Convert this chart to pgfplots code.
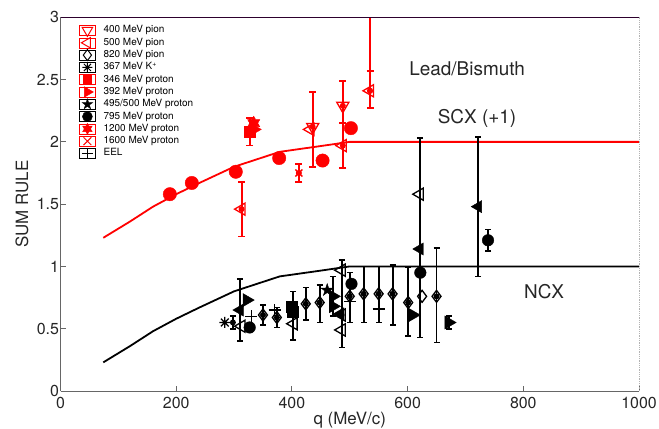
\documentclass[border=0pt]{standalone}
\usepackage{fontspec}
\setmainfont{TeX Gyre Heros}
\usepackage{pgfplots}
\pgfplotsset{compat=1.18}

\pgfdeclareplotmark{hexagram}{%
 \pgfpathmoveto{\pgfpointpolar{90}{\pgfplotmarksize}}%
 \pgfpathlineto{\pgfpointpolar{120}{0.577\pgfplotmarksize}}%
 \pgfpathlineto{\pgfpointpolar{150}{\pgfplotmarksize}}%
 \pgfpathlineto{\pgfpointpolar{180}{0.577\pgfplotmarksize}}%
 \pgfpathlineto{\pgfpointpolar{210}{\pgfplotmarksize}}%
 \pgfpathlineto{\pgfpointpolar{240}{0.577\pgfplotmarksize}}%
 \pgfpathlineto{\pgfpointpolar{270}{\pgfplotmarksize}}%
 \pgfpathlineto{\pgfpointpolar{300}{0.577\pgfplotmarksize}}%
 \pgfpathlineto{\pgfpointpolar{330}{\pgfplotmarksize}}%
 \pgfpathlineto{\pgfpointpolar{0}{0.577\pgfplotmarksize}}%
 \pgfpathlineto{\pgfpointpolar{30}{\pgfplotmarksize}}%
 \pgfpathlineto{\pgfpointpolar{60}{0.577\pgfplotmarksize}}%
 \pgfpathclose\pgfusepathqfillstroke}
\pgfdeclareplotmark{pentagram}{%
 \pgfpathmoveto{\pgfpointpolar{90}{\pgfplotmarksize}}%
 \pgfpathlineto{\pgfpointpolar{126}{0.382\pgfplotmarksize}}%
 \pgfpathlineto{\pgfpointpolar{162}{\pgfplotmarksize}}%
 \pgfpathlineto{\pgfpointpolar{198}{0.382\pgfplotmarksize}}%
 \pgfpathlineto{\pgfpointpolar{234}{\pgfplotmarksize}}%
 \pgfpathlineto{\pgfpointpolar{270}{0.382\pgfplotmarksize}}%
 \pgfpathlineto{\pgfpointpolar{306}{\pgfplotmarksize}}%
 \pgfpathlineto{\pgfpointpolar{342}{0.382\pgfplotmarksize}}%
 \pgfpathlineto{\pgfpointpolar{18}{\pgfplotmarksize}}%
 \pgfpathlineto{\pgfpointpolar{54}{0.382\pgfplotmarksize}}%
 \pgfpathclose\pgfusepathqfillstroke}
\pgfdeclareplotmark{ast8}{%
 \pgfpathmoveto{\pgfqpoint{-\pgfplotmarksize}{0pt}}\pgfpathlineto{\pgfqpoint{\pgfplotmarksize}{0pt}}%
 \pgfpathmoveto{\pgfqpoint{0pt}{-\pgfplotmarksize}}\pgfpathlineto{\pgfqpoint{0pt}{\pgfplotmarksize}}%
 \pgfpathmoveto{\pgfpointpolar{45}{\pgfplotmarksize}}\pgfpathlineto{\pgfpointpolar{225}{\pgfplotmarksize}}%
 \pgfpathmoveto{\pgfpointpolar{135}{\pgfplotmarksize}}\pgfpathlineto{\pgfpointpolar{315}{\pgfplotmarksize}}%
 \pgfusepathqstroke}

\pgfplotsset{
  rbar/.style={red, only marks, mark=none, forget plot, line width=1.9bp,
    error bars/.cd, y dir=both, y explicit,
    error bar style={draw=red, line width=1.9bp},
    error mark options={draw=red, line width=1.6bp, mark size=3.5bp, rotate=90}},
  kbar/.style={black, only marks, mark=none, forget plot, line width=1.9bp,
    error bars/.cd, y dir=both, y explicit,
    error bar style={draw=black, line width=1.9bp},
    error mark options={draw=black, line width=1.6bp, mark size=3bp, rotate=90}},
}

\begin{document}
\begin{tikzpicture}
\useasboundingbox (-60.5bp,-38bp) rectangle (598.5bp,391bp);
\begin{axis}[
  at={(0,0)}, anchor=south west, scale only axis,
  width=578.5bp, height=373.7bp,
  xmin=0, xmax=1000, ymin=0, ymax=3,
  xtick={0,200,400,600,800,1000}, ytick={0,0.5,1,1.5,2,2.5,3},
  tick align=inside, major tick length=5bp,
  axis x line*=bottom, axis y line*=left,
  axis line style={-, draw=black!60, line width=0.9bp},
  tick style={draw=black!60, line width=0.9bp},
  /pgf/number format/assume math mode=true,
  /pgf/number format/1000 sep={},
  tick label style={font=\fontsize{16}{16}\selectfont, text=black!85},
  xticklabel style={yshift=-3bp},
  yticklabel style={xshift=2bp},
  xlabel={q (MeV/c)}, ylabel={SUM RULE},
  every axis x label/.style={at={(rel axis cs:0.5,0)}, anchor=center, yshift=-29bp,
     font=\fontsize{17}{17}\selectfont, text=black!85},
  every axis y label/.style={at={(rel axis cs:0,0.5)}, xshift=-38.5bp, rotate=90, anchor=center,
     font=\fontsize{17}{17}\selectfont, text=black!85},
  clip=false,
  legend style={at={(rel axis cs:0.032,0.9817)}, anchor=north west, draw=none, fill=none,
     inner sep=0pt, font=\fontsize{10}{10}\selectfont, cells={anchor=west},
     nodes={text height=6.8bp, text depth=1.8bp, inner ysep=1.85bp, inner xsep=2bp},
     row sep=0pt, /tikz/every odd column/.append style={column sep=6bp}},
  legend image code/.code={\path (0bp,-5bp) rectangle (16bp,5bp); \draw[#1] plot coordinates {(8bp,0bp)};},
]
% ---------- legend ----------
\addlegendimage{only marks, red, mark=triangle, mark size=6bp, mark options={rotate=180, line width=1bp}}
\addlegendentry{400 MeV pion}
\addlegendimage{only marks, red, mark=triangle, mark size=6bp, mark options={rotate=90, line width=1bp}}
\addlegendentry{500 MeV pion}
\addlegendimage{only marks, black, mark=diamond, mark size=5.5bp, mark options={line width=1bp}}
\addlegendentry{820 MeV pion}
\addlegendimage{only marks, black, mark=ast8, mark size=5bp, mark options={line width=1bp}}
\addlegendentry{367 MeV K\textsuperscript{+}}
\addlegendimage{only marks, red, mark=square*, mark size=4.2bp}
\addlegendentry{346 MeV proton}
\addlegendimage{only marks, red, mark=triangle*, mark size=6bp, mark options={rotate=-90}}
\addlegendentry{392 MeV proton}
\addlegendimage{only marks, black, mark=pentagram, mark size=5.5bp}
\addlegendentry{495/500 MeV proton}
\addlegendimage{only marks, black, mark=*, mark size=5bp}
\addlegendentry{795 MeV proton}
\addlegendimage{only marks, red, mark=hexagram, mark size=5.5bp}
\addlegendentry{1200 MeV proton}
\addlegendimage{only marks, red, mark=x, mark size=5.5bp, mark options={line width=1bp}}
\addlegendentry{1600 MeV proton}
\addlegendimage{only marks, black, mark=+, mark size=5.5bp, mark options={line width=1bp}}
\addlegendentry{EEL}

% ---------- curves ----------
\addplot[red, line width=1.8bp, forget plot] coordinates {
 (74,1.23) (120,1.36) (160,1.48) (200,1.58) (240,1.67) (300,1.80) (379,1.92) (440,1.96) (500,2.0) (1000,2.0)};
\addplot[black, line width=1.8bp, forget plot] coordinates {
 (74,0.23) (120,0.36) (160,0.48) (200,0.58) (240,0.67) (300,0.80) (379,0.92) (440,0.96) (500,1.0) (1000,1.0)};

% ---------- red error bars (SCX +1) ----------
\addplot[rbar] coordinates {
 (436,2.12) +=(0,0.28) -=(0,0.32)
 (488,2.29) +=(0,0.20) -=(0,0.14)
 (313,1.46) +-(0,0.22)
 (488,1.97) +-(0,0.18)
 (535,2.41) +=(0,0.16) -=(0,0.14)
 (327,2.08) +-(0,0.11)
 (412,1.75) +-(0,0.07)};
\addplot[red, only marks, forget plot, mark=none, line width=1.9bp,
  error bars/.cd, y dir=plus, y explicit, error bar style={draw=red, line width=1.9bp}, error mark=none]
 coordinates {(535,2.41) +=(0,0.59)};

% ---------- red marks ----------
% 400 MeV pion
\addplot[red, only marks, forget plot, mark=triangle, mark size=7bp, mark options={rotate=180, line width=1.3bp}]
 coordinates {(436,2.12) (488,2.29)};
% 500 MeV pion
\addplot[red, only marks, forget plot, mark=triangle, mark size=7bp, mark options={rotate=90, line width=1.3bp}]
 coordinates {(313,1.46) (432,2.10) (488,1.97) (535,2.41)};
% 346 MeV proton
\addplot[red, only marks, forget plot, mark=square*, mark size=5.5bp]
 coordinates {(327,2.08)};
% 392 MeV proton
\addplot[red, only marks, forget plot, mark=triangle*, mark size=7bp, mark options={rotate=-90}]
 coordinates {(335,2.10)};
% 1200 MeV proton
\addplot[red, only marks, forget plot, mark=hexagram, mark size=7bp]
 coordinates {(334,2.15)};
% 795 MeV proton
\addplot[red, only marks, forget plot, mark=*, mark size=6.7bp]
 coordinates {(189,1.58) (227,1.67) (303,1.76) (378,1.87) (453,1.85) (502,2.11)};
% 1600 MeV proton
\addplot[red, only marks, forget plot, mark=x, mark size=5bp, mark options={line width=1.3bp}]
 coordinates {(412,1.75)};

% ---------- black error bars (NCX) ----------
\addplot[kbar] coordinates {
 (350,0.61) +-(0,0.08)
 (374,0.59) +-(0,0.08)
 (424,0.70) +-(0,0.13)
 (448,0.71) +=(0,0.14) -=(0,0.16)
 (500,0.76) +=(0,0.19) -=(0,0.21)
 (524,0.78) +=(0,0.22) -=(0,0.23)
 (550,0.78) +=(0,0.22) -=(0,0.23)
 (574,0.78) +=(0,0.23) -=(0,0.25)
 (601,0.71) +=(0,0.28) -=(0,0.27)
 (650,0.76) +=(0,0.39) -=(0,0.37)
 (486,0.61) +=(0,0.44) -=(0,0.26)
 (310,0.65) +-(0,0.25)
 (621,1.14) +=(0,0.89) -=(0,0.71)
 (722,1.48) +-(0,0.56)
 (471,0.76) +-(0,0.16)
 (671,0.55) +-(0,0.05)
 (739,1.21) +-(0,0.085)
 (402,0.64) +=(0,0.16) -=(0,0.23)
 (298,0.55) +-(0,0.05)};

% ---------- black marks ----------
% 820 MeV pion
\addplot[black, only marks, forget plot, mark=diamond, mark size=6bp, mark options={line width=1.3bp}]
 coordinates {(350,0.61) (374,0.59) (424,0.70) (448,0.71) (500,0.76) (524,0.78) (550,0.78)
  (574,0.78) (601,0.71) (625,0.76) (650,0.76)};
% 500 MeV pion (open left triangles)
\addplot[black, only marks, forget plot, mark=triangle, mark size=7bp, mark options={rotate=90, line width=1.3bp}]
 coordinates {(313,0.52) (403,0.54) (486,0.49) (486,0.61) (486,0.97) (621,1.58)};
% filled left triangles
\addplot[black, only marks, forget plot, mark=triangle*, mark size=7bp, mark options={rotate=90}]
 coordinates {(310,0.65) (484,0.62) (621,1.14) (722,1.48)};
% 392 MeV proton (filled right triangles)
\addplot[black, only marks, forget plot, mark=triangle*, mark size=7.5bp, mark options={rotate=-90}]
 coordinates {(322,0.73) (471,0.76) (471,0.68) (609,0.61) (671,0.55)};
% 795 MeV proton
\addplot[black, only marks, forget plot, mark=*, mark size=5.8bp]
 coordinates {(327,0.51) (503,0.86) (622,0.95) (739,1.21)};
% 346 MeV proton
\addplot[black, only marks, forget plot, mark=square*, mark size=5.5bp]
 coordinates {(400,0.68) (402,0.64)};
% 495/500 MeV proton
\addplot[black, only marks, forget plot, mark=pentagram, mark size=6.5bp]
 coordinates {(461,0.81)};
% EEL
\addplot[black, only marks, forget plot, mark=+, mark size=6bp, mark options={line width=1.5bp}]
 coordinates {(330,0.60) (370,0.65) (500,0.72) (550,0.66)};
\addplot[black, only marks, forget plot, mark=+, mark size=3bp, mark options={line width=1.5bp}]
 coordinates {(298,0.55)};
% 367 MeV K+
\addplot[black, only marks, forget plot, mark=ast8, mark size=5.5bp, mark options={line width=1.3bp}]
 coordinates {(284,0.55)};

% ---------- frame and text ----------
\draw[draw=black!65!violet, line width=1bp] (rel axis cs:0,1) -- (rel axis cs:1,1);
\draw[densely dotted, draw=black!30, line width=0.8bp] (rel axis cs:1,0) -- (rel axis cs:1,1);
\node[font=\fontsize{19}{19}\selectfont, text=black!85] at (axis cs:703,2.59) {Lead/Bismuth};
\node[font=\fontsize{19}{19}\selectfont, text=black!85] at (axis cs:720,2.19) {SCX (+1)};
\node[font=\fontsize{19}{19}\selectfont, text=black!85] at (axis cs:836,0.80) {NCX};
\end{axis}
\end{tikzpicture}
\end{document}
